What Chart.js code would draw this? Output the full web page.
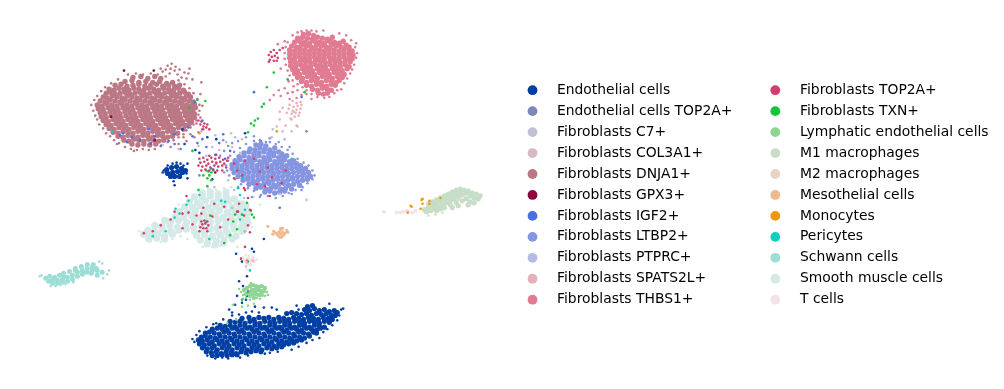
<!DOCTYPE html>
<html><head><meta charset="utf-8"><script src="https://cdn.jsdelivr.net/npm/chart.js@4"></script>
<style>html,body{margin:0;padding:0;background:#fff}#w{position:relative;width:1004px;height:389px}</style></head>
<body><div id="w"><canvas id="c" width="1004" height="389"></canvas></div>
<script>
const categories=["Endothelial cells","Endothelial cells TOP2A+","Fibroblasts C7+","Fibroblasts COL3A1+","Fibroblasts DNJA1+","Fibroblasts GPX3+","Fibroblasts IGF2+","Fibroblasts LTBP2+","Fibroblasts PTPRC+","Fibroblasts SPATS2L+","Fibroblasts THBS1+","Fibroblasts TOP2A+","Fibroblasts TXN+","Lymphatic endothelial cells","M1 macrophages","M2 macrophages","Mesothelial cells","Monocytes","Pericytes","Schwann cells","Smooth muscle cells","T cells"];
const palette=['#023fa5','#7d87b9','#bec1d4','#d6bcc0','#bb7784','#8e063b','#4a6fe3','#8595e1','#b5bbe3','#e6afb9','#e07b91','#d33f6a','#11c638','#8dd593','#c6dec7','#ead3c6','#f0b98d','#ef9708','#0fcfc0','#9cded6','#d5eae7','#f3e1eb'];
// Flat x,y pairs. *Core arrays are the dense bodies, *Edge arrays the frayed outskirts.
const endothelialCore=[306,309,311,308,303,312,308,313,313,311,318,313,323,312,328,314,333,313,336,315,
285,316,290,315,295,316,300,317,305,316,310,318,315,316,320,317,325,316,330,318,334,318,
240,321,247,320,252,322,257,320,262,321,267,320,272,322,277,320,282,321,287,322,292,320,297,321,302,322,307,320,312,321,317,322,322,320,327,321,331,322,
228,324,233,325,238,324,243,326,248,324,253,325,258,326,263,324,268,325,273,326,278,324,283,325,288,326,293,324,298,325,303,326,308,324,313,325,318,326,323,324,328,325,
218,328,223,329,228,328,233,330,238,328,243,329,248,330,253,328,258,329,263,330,268,328,273,329,278,330,283,328,288,329,293,330,298,328,303,329,308,330,313,328,318,329,323,330,
210,332,215,331,220,332,225,333,230,331,235,332,240,333,245,331,250,332,255,333,260,331,265,332,270,333,275,331,280,332,285,333,290,331,295,332,300,333,305,331,310,332,315,333,319,331,
203,336,207,335,212,336,217,337,222,335,227,336,232,337,237,335,242,336,247,337,252,335,257,336,262,337,267,335,272,336,277,337,282,335,287,336,292,337,297,335,302,336,307,337,312,335,315,336,
199,340,203,339,208,340,213,341,218,339,223,340,228,341,233,339,238,340,243,341,248,339,253,340,258,341,263,339,268,340,273,341,278,339,283,340,288,341,293,339,298,340,303,341,308,339,
196,343,200,344,205,343,210,345,215,343,220,344,225,345,230,343,235,344,240,345,245,343,250,344,255,345,260,343,265,344,270,345,275,343,280,344,285,345,290,343,295,344,300,343,
197,347,202,348,207,347,212,349,217,347,222,348,227,349,232,347,237,348,242,349,247,347,252,348,257,349,262,347,267,348,272,349,277,347,282,348,287,347,292,346,
200,351,205,352,210,351,215,353,220,351,225,352,230,353,235,351,240,352,245,353,250,351,255,352,260,353,265,351,270,352,275,351,280,350,
204,355,209,356,214,355,219,357,224,355,229,356,234,357,239,355,244,356,249,355,254,354,259,355,210,359,215,359,220,358,225,359,230,358,235,358,
164,169,169,167,174,166,179,168,165,173,170,172,175,171,180,172,172,176,177,176,168,176,183,170];
const endothelialEdge=[262,310,253,309,270,310,275,312,295,308,328,306,250,314,257,315,340,312,342,311,338,318,336,323,331,328,326,332,322,335,318,341,311,343,305,346,297,350,290,353,276,355,268,356,263,357,246,359,238,361,226,362,220,361,213,362,205,359,192,345,190,342,194,338,197,334,204,330,211,327,214,326,221,322,230,318,237,317,244,315,297,312,
161,170,163,172,170,163,174,162,178,163,181,165,165,165,184,173,185,163,172,185,171,181,185,178,160,172,
180,128,182,143,210,179,214,138,243,132,250,250,245,278,237,283,241,288,235,298,233,307,240,305,244,302,240,263,234,255,252,253,245,298,230,315,227,312,197,152,193,149,205,136,262,240];
const endothelialTop2a=[246,293,197,175,305,130,259,140];
const c7=[238,152,271,128,160,144,305,200,212,187,278,194];
const col3a1=[290,118,296,125,281,130,292,110,229,132,240,138,176,148,230,146,290,130,244,268];
const dnja1Core=[130,75,138,74,145,76,152,74,158,76,122,79,129,78,136,80,143,79,150,80,157,79,164,81,170,80,
112,83,118,82,124,84,130,83,136,82,142,84,148,83,154,82,160,84,166,83,172,84,177,83,
106,87,111,88,116,86,121,87,126,88,131,86,136,87,141,88,146,86,151,87,156,88,161,86,166,87,171,88,176,86,181,88,
103,91,107,90,112,92,117,91,122,90,127,92,132,91,137,90,142,92,147,91,152,90,157,92,162,91,167,90,172,92,177,91,182,90,186,92,
100,95,104,96,109,94,114,95,119,96,124,94,129,95,134,96,139,94,144,95,149,96,154,94,159,95,164,96,169,94,174,95,179,96,184,94,188,95,
97,99,102,100,107,98,112,99,117,100,122,98,127,99,132,100,137,98,142,99,147,100,152,98,157,99,162,100,167,98,172,99,177,100,182,98,187,99,191,100,
94,103,99,104,104,102,109,103,114,104,119,102,124,103,129,104,134,102,139,103,144,104,149,102,154,103,159,104,164,102,169,103,174,104,179,102,184,103,189,104,192,102,
95,107,100,108,105,106,110,107,115,108,120,106,125,107,130,108,135,106,140,107,145,108,150,106,155,107,160,108,165,106,170,107,175,108,180,106,185,107,190,108,193,106,
97,111,102,112,107,110,112,111,117,112,122,110,127,111,132,112,137,110,142,111,147,112,152,110,157,111,162,112,167,110,172,111,177,112,182,110,187,111,192,112,
98,115,103,116,108,114,113,115,118,116,123,114,128,115,133,116,138,114,143,115,148,116,153,114,158,115,163,116,168,114,173,115,178,116,183,114,188,115,192,116,
100,119,105,120,110,118,115,119,120,120,125,118,130,119,135,120,140,118,145,119,150,120,155,118,160,119,165,120,170,118,175,119,180,120,185,118,189,120,
103,123,108,124,113,122,118,123,123,124,128,122,133,123,138,124,143,122,148,123,153,124,158,122,163,123,168,124,173,122,178,123,183,124,187,122,
106,127,111,128,116,126,121,127,126,128,131,126,136,127,141,128,146,126,151,127,156,128,161,126,166,127,171,128,176,126,181,128,
110,131,115,132,120,130,125,131,130,132,135,130,140,131,145,132,150,130,155,131,160,132,165,130,170,131,175,132,
115,135,120,136,125,134,130,135,135,136,140,134,145,135,150,136,155,134,160,135,165,136,170,135,
121,139,126,140,131,138,136,139,141,140,146,138,151,139,156,140,161,139,129,143,135,144,141,143,147,144,153,143];
const dnja1Edge=[125,72,133,71,140,72,148,71,155,72,163,74,115,77,108,81,102,85,98,89,94,94,91,98,88,103,90,109,92,114,94,118,96,123,100,127,103,132,107,135,111,139,116,142,122,146,128,148,134,149,140,148,146,149,152,148,131,150,159,144,165,141,171,139,176,136,181,133,184,129,188,126,191,123,194,119,196,113,197,109,197,103,195,97,191,91,187,86,182,82,176,78,
165,63,169,61,173,64,163,67,168,66,172,68,177,67,182,70,186,71,160,69,167,71,175,72,179,75,190,77,184,76,158,66,187,66,
199,80,198,92,200,104,198,116,201,128,194,122,196,131,192,136,188,133,184,140,176,143,181,136,168,146,114,143];
const gpx3=[108,115,152,139,151,68,213,172,121,68];
const igf2=[117,134,124,141,129,136,137,139,148,142,152,135,158,145,166,140,172,143,186,126,190,135,195,142,200,138,204,146,172,133,192,100,213,154,217,142,223,158,221,133,228,150,120,132,146,128,178,148,209,168,200,119,300,95,252,90,148,143,278,208];
const ltbp2Core=[254,144,259,143,264,145,248,148,253,149,258,147,263,148,268,149,273,147,242,152,247,151,252,153,257,152,262,151,267,153,272,152,277,151,280,153,
237,156,242,155,247,157,252,156,257,155,262,157,267,156,272,155,277,157,282,156,285,155,
233,160,238,159,243,161,248,160,253,159,258,161,263,160,268,159,273,161,278,160,283,159,288,161,292,160,
230,164,235,163,240,165,245,164,250,163,255,165,260,164,265,163,270,165,275,164,280,163,285,165,290,164,295,163,299,165,
230,168,235,167,240,169,245,168,250,167,255,169,260,168,265,167,270,169,275,168,280,167,285,169,290,168,295,167,300,169,304,168,
232,172,237,171,242,173,247,172,252,171,257,173,262,172,267,171,272,173,277,172,282,171,287,173,292,172,297,171,302,173,307,172,
236,176,241,175,246,177,251,176,256,175,261,177,266,176,271,175,276,177,281,176,286,175,291,177,296,176,301,175,306,177,309,176,
241,180,246,179,251,181,256,180,261,179,266,181,271,180,276,179,281,181,286,180,291,179,296,181,301,180,306,179,
247,184,252,183,257,185,262,184,267,183,272,185,277,184,282,183,287,185,292,184,298,185,
254,188,259,187,264,189,269,188,274,187,279,189,284,188,290,189,263,192,268,191,273,193,278,192,283,191];
const ltbp2Edge=[252,140,258,139,264,141,244,143,238,147,232,151,228,155,226,160,224,165,225,170,227,175,233,179,239,184,246,188,252,191,259,195,266,196,274,198,281,196,287,193,294,190,301,187,306,183,311,179,313,175,311,170,307,165,302,162,296,158,291,153,286,149,280,146,274,143,268,141,
222,150,218,155,214,163,222,172,226,145,230,142,236,140,221,139,244,136,252,135,268,137,277,141,288,146,250,197,258,197,290,194,300,190,236,187];
const ptprc=[213,134,217,149,224,141,204,155,210,146,233,136,199,130,226,180,232,190,242,198,283,138,270,136,196,145,230,208];
const spats2l=[291,99,295,101,299,100,288,103,292,105,296,104,300,103,287,107,291,109,295,108,299,107,290,112,294,111,298,111,293,115,297,114,289,117,285,111,281,106,278,118,275,125,284,124,295,124,278,110,245,264,251,262,243,232];
const thbs1Core=[302,31,307,30,312,32,296,35,301,34,306,35,311,36,316,34,321,35,326,36,331,34,293,39,298,38,303,39,308,40,313,38,318,39,323,40,328,38,333,39,338,40,342,38,
290,43,295,44,300,42,305,43,310,44,315,42,320,43,325,44,330,42,335,43,340,44,345,42,348,44,
288,47,293,48,298,46,303,47,308,48,313,46,318,47,323,48,328,46,333,47,338,48,343,46,348,47,351,48,
288,51,293,52,298,50,303,51,308,52,313,50,318,51,323,52,328,50,333,51,338,52,343,50,348,51,352,52,
288,55,293,56,298,54,303,55,308,56,313,54,318,55,323,56,328,54,333,55,338,56,343,54,348,55,351,56,
289,59,294,60,299,58,304,59,309,60,314,58,319,59,324,60,329,58,334,59,339,60,344,58,349,59,
289,63,294,64,299,62,304,63,309,64,314,62,319,63,324,64,329,62,334,63,339,64,344,62,348,64,
291,67,296,68,301,66,306,67,311,68,316,66,321,67,326,68,331,66,336,67,341,68,346,66,
293,71,298,72,303,70,308,71,313,72,318,70,323,71,328,72,333,70,338,71,343,72,
296,75,301,76,306,74,311,75,316,76,321,74,326,75,331,76,336,74,341,75,
300,79,305,80,310,78,315,79,320,80,325,78,330,79,335,80,338,78,
305,83,310,84,315,82,320,83,325,84,330,82,334,83,311,87,316,88,321,86,326,87,330,88,317,91,322,92,326,91];
const thbs1Edge=[300,28,305,27,310,27,315,28,322,27,296,29,291,32,338,30,345,32,350,37,355,40,354,44,356,50,355,55,353,62,351,67,349,71,346,76,343,81,340,87,336,88,333,91,328,95,323,96,316,95,310,92,305,88,301,85,296,82,291,78,288,73,286,68,284,62,283,56,283,50,284,44,286,39,
283,38,279,66,276,41,292,84,287,79,283,86,277,88,272,93,268,98,279,94,286,91,291,90,296,88,300,93,305,92,295,96,288,97,310,97];
const top2a=[267,52,269,49,272,47,275,50,278,47,281,45,270,54,273,53,276,55,268,57,272,58,267,59,275,58,
197,158,201,157,205,159,209,157,213,158,217,157,221,159,198,162,202,161,206,163,210,161,214,162,218,161,222,163,225,160,196,165,200,166,204,165,208,167,212,165,216,166,220,165,224,167,199,170,203,169,207,170,211,169,215,170,220,170,207,155,214,154,
196,119,199,120,202,122,205,123,198,123,201,125,204,126,207,128,200,128,
199,222,202,221,205,222,200,225,203,224,206,226,198,228,201,229,204,229,197,232,205,232,
226,157,232,163,235,170,240,175,243,160,252,158,258,171,266,167,270,177,284,170,280,183,263,186,243,190,232,178,
201,208,186,213,194,216,212,204,222,207,235,212,199,214,210,217,226,220,150,232,158,226,172,212,180,214,242,188,184,196,248,233,243,248,236,212,255,184,246,198,
180,229,168,220,190,225,218,228,141,234,246,226,242,216,237,204,248,210,268,196,239,260];
const txn=[262,102,260,105,256,117,253,119,249,122,252,124,246,131,195,98,203,99,207,175,205,178,209,172,204,170,201,175,206,171,211,170,209,180,205,186,
245,203,250,215,252,218,249,211,240,215,235,230,231,222,243,232,222,244,228,236,246,263,265,85,272,70,286,77,303,90,187,106,190,150,196,190,233,215,208,216,246,294,240,302];
const lymphatic=[242,292,245,290,248,288,251,287,254,288,257,289,260,288,263,290,244,296,247,294,250,292,253,292,256,292,259,293,262,293,248,298,251,296,254,296,257,297,260,297,252,300,255,300,241,297,265,294,244,300,239,294,263,298,248,302,258,301,241,301,240,309,246,308,237,291,266,297,249,285,231,307,225,326,234,322,252,306];
const m1=[424,210,428,208,432,206,436,204,440,202,444,200,448,198,452,196,456,194,460,192,464,190,428,204,432,202,436,200,440,198,444,196,448,194,452,192,456,190,460,189,468,191,472,193,476,194,480,196,426,212,430,211,434,209,438,207,442,205,446,203,450,201,454,199,458,197,462,195,466,193,470,196,474,198,478,199,462,201,466,199,470,202,456,203,450,205,444,208,436,211,440,209,474,203,468,205,458,206,452,208];
const m2=[450,206,458,200,428,216,435,215,463,196,442,213];
const mesothelial=[274,234,277,233,279,231,281,233,283,234,286,233,276,236,279,235,282,236,280,238,278,238,272,232,281,229,266,227,271,235,279,229,285,231];
const monocytes=[410,206,411,207,421,200,422,199,429,201,429,204,420,209,440,198,407,213,422,204,245,262,275,130,197,132];
const pericytes=[177,214,173,209,163,232,184,205,172,218,204,222,223,202,197,195,186,201,150,237,236,188,207,240,219,201,243,210,238,220,109,130,248,272,238,195,290,158,283,172,240,178];
const schwann=[42,280,46,278,51,279,56,277,60,278,45,283,49,282,54,282,59,281,64,279,69,277,74,274,79,272,84,270,89,269,93,270,49,285,54,285,59,284,64,283,69,281,74,278,79,276,84,274,89,272,94,272,99,274,60,275,66,273,72,270,78,268,84,266,90,266,72,272,80,274,88,275,94,277];
const schwannEdge=[38,277,36,278,47,288,52,288,57,287,104,276,106,272,99,265,100,280,96,263,62,286,70,284];
const smoothCore=[200,193,208,192,216,194,224,192,192,197,200,198,208,196,216,198,224,197,232,199,187,202,195,203,203,201,211,203,219,202,227,201,235,203,240,204,
182,207,190,208,198,206,206,208,214,207,222,206,230,208,238,207,244,206,177,212,185,213,193,211,201,213,209,212,217,211,225,213,233,212,241,211,246,213,
173,217,181,218,189,216,197,218,205,217,213,216,221,218,229,217,237,216,245,218,162,221,168,222,176,221,184,223,192,221,200,223,208,222,216,221,224,223,232,222,240,221,246,223,
152,226,159,227,167,226,175,228,183,226,191,228,199,227,207,226,215,228,223,227,231,226,239,228,244,227,
145,231,152,232,160,230,168,232,176,231,184,230,192,232,200,231,208,230,216,232,224,231,232,230,240,232,
141,235,148,236,155,235,162,237,170,235,194,236,202,235,210,237,218,236,226,235,234,237,146,240,154,239,162,240,198,241,206,240,214,242,222,241,230,240,205,245,213,246,221,244];
const smoothEdge=[197,189,206,188,214,190,222,188,136,232,148,242,158,243,178,237,185,240,176,205,240,180,252,197,258,205,229,187,235,248,200,248,210,248,218,247,250,228,138,236,170,240];
const tCells=[383,212,396,213,400,213,403,212,406,211,408,212,412,213,415,211,243,262,246,260,249,262,252,263,245,265,248,266,251,259,247,257,244,256,245,271,248,272,255,261,241,259,248,252];

const series=[[...endothelialCore,...endothelialEdge],endothelialTop2a,c7,col3a1,[...dnja1Core,...dnja1Edge],gpx3,igf2,[...ltbp2Core,...ltbp2Edge],ptprc,spats2l,[...thbs1Core,...thbs1Edge],top2a,txn,lymphatic,m1,m2,mesothelial,monocytes,pericytes,[...schwann,...schwannEdge],[...smoothCore,...smoothEdge],tCells];
const coreCounts={0:endothelialCore.length/2,4:dnja1Core.length/2,7:ltbp2Core.length/2,10:thbs1Core.length/2,13:21,14:m1.length/2,16:17,19:schwann.length/2,20:smoothCore.length/2,21:15};
const coreRadius={0:2.6,4:2.7,7:2.7,10:2.7,13:2.2,14:2.6,16:1.6,19:2.5,20:3.6,21:2};
const layerOrder={20:30,19:30,14:30,0:20,4:20,7:20,10:20};
const toPoints=a=>{const r=[];for(let i=0;i+1<a.length;i+=2)r.push({x:a[i],y:a[i+1]});return r;};
const legendPlugin={id:'scLegend',afterDraw(ch){const g=ch.ctx;g.save();g.font='13.89px "DejaVu Sans"';g.textBaseline='middle';g.textAlign='left';
categories.forEach((t,i)=>{const col=i<11?0:1,row=i%11;const mx=col?775.3:532.5,tx=col?800:557,y=90.2+row*20.95;
g.fillStyle=palette[i];g.beginPath();g.arc(mx,y,4.9,0,Math.PI*2);g.fill();g.fillStyle='#000';g.fillText(t,tx,y);});g.restore();}};
new Chart(document.getElementById('c'),{type:'scatter',data:{datasets:categories.map((c,i)=>({label:c,data:toPoints(series[i]),backgroundColor:palette[i],
pointRadius:ctx=>(i in coreCounts&&ctx.dataIndex<coreCounts[i])?coreRadius[i]:1.3,pointBorderWidth:0,order:layerOrder[i]||1}))},
options:{responsive:false,animation:false,layout:{padding:{left:0,right:514,top:0,bottom:0}},plugins:{legend:{display:false},tooltip:{enabled:false}},
scales:{x:{min:0,max:490,display:false},y:{min:0,max:389,reverse:true,display:false}}},plugins:[legendPlugin]});
</script></body></html>
